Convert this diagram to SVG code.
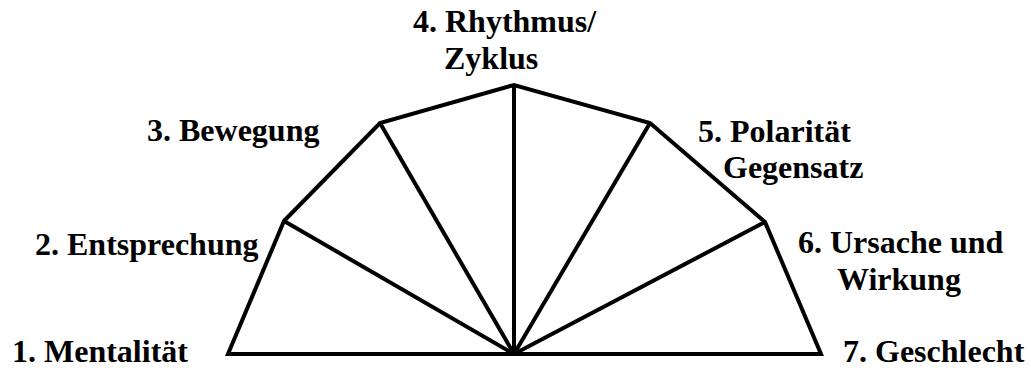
<svg xmlns="http://www.w3.org/2000/svg" width="1031" height="371" viewBox="0 0 1031 371">
<style>
.lbl{font-family:"Liberation Serif","Times New Roman",serif;font-weight:bold;font-size:32px;fill:#000}
.ln{stroke:#000;stroke-width:4;fill:none;stroke-linejoin:miter;stroke-linecap:butt}
</style>
<rect width="1031" height="371" fill="#fff"/>
<g id="connectors">
<polygon class="ln" points="228,354 284,221 380,123 514,85 650,123 765,222 821,354"/>
<line class="ln" x1="514" y1="354" x2="284" y2="221"/>
<line class="ln" x1="514" y1="354" x2="380" y2="123"/>
<line class="ln" x1="514" y1="354" x2="514" y2="85"/>
<line class="ln" x1="514" y1="354" x2="650" y2="123"/>
<line class="ln" x1="514" y1="354" x2="765" y2="222"/>
</g>
<g id="n1"><text class="lbl" x="12" y="362">1. Mentalität</text></g>
<g id="n2"><text class="lbl" x="35" y="255">2. Entsprechung</text></g>
<g id="n3"><text class="lbl" x="147" y="141">3. Bewegung</text></g>
<g id="n4"><text class="lbl" x="413" y="32">4. Rhythmus/</text><text class="lbl" x="444" y="69">Zyklus</text></g>
<g id="n5"><text class="lbl" x="698" y="142">5. Polarität</text><text class="lbl" x="723" y="178">Gegensatz</text></g>
<g id="n6"><text class="lbl" x="798" y="253">6. Ursache und</text><text class="lbl" x="837" y="290">Wirkung</text></g>
<g id="n7"><text class="lbl" x="843" y="362">7. Geschlecht</text></g>
</svg>
